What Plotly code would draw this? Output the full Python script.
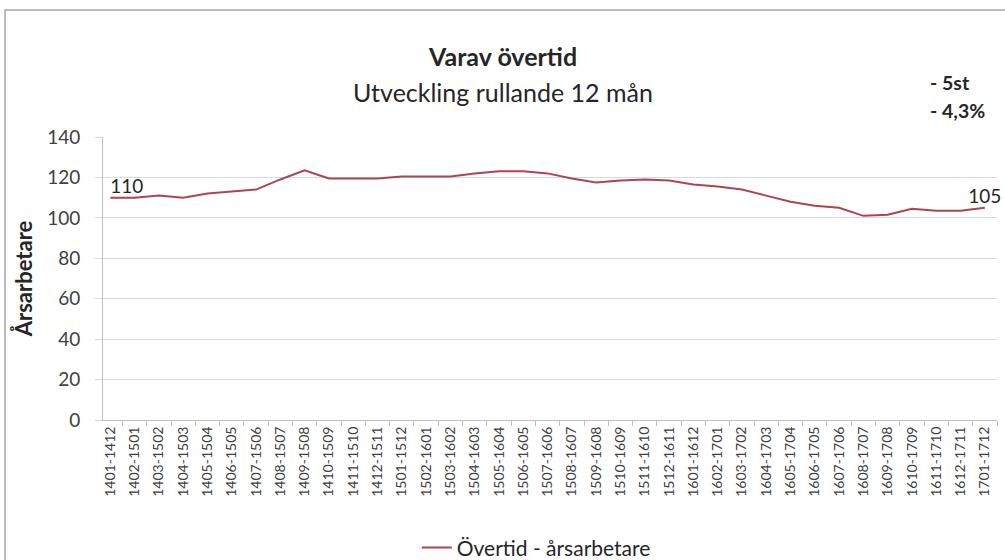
import plotly.graph_objects as go

# rullande 12 mån perioder
perioder = [
    "1401-1412", "1402-1501", "1403-1502", "1404-1503", "1405-1504", "1406-1505",
    "1407-1506", "1408-1507", "1409-1508", "1410-1509", "1411-1510", "1412-1511",
    "1501-1512", "1502-1601", "1503-1602", "1504-1603", "1505-1604", "1506-1605",
    "1507-1606", "1508-1607", "1509-1608", "1510-1609", "1511-1610", "1512-1611",
    "1601-1612", "1602-1701", "1603-1702", "1604-1703", "1605-1704", "1606-1705",
    "1607-1706", "1608-1707", "1609-1708", "1610-1709", "1611-1710", "1612-1711",
    "1701-1712",
]

overtid = [
    110, 110, 111, 110, 112, 113,
    114, 119, 123.5, 119.5, 119.5, 119.5,
    120.5, 120.5, 120.5, 122, 123, 123,
    122, 119.5, 117.5, 118.5, 119, 118.5,
    116.5, 115.5, 114, 111, 108, 106,
    105, 101, 101.5, 104.5, 103.5, 103.5,
    105,
]

# bara första och sista värdet visas som etikett
etiketter = ["110"] + [""] * (len(perioder) - 2) + ["105"]
etikett_pos = ["top right"] + ["top center"] * (len(perioder) - 2) + ["top center"]

y_ticks = [0, 20, 40, 60, 80, 100, 120, 140]

FONT = "Lato, 'Open Sans', sans-serif"
MORK = "#262626"

fig = go.Figure()
fig.add_trace(go.Scatter(
    x=perioder,
    y=overtid,
    mode="lines+text",
    name="Övertid - årsarbetare",
    line=dict(color="#ad4550", width=2),
    text=etiketter,
    textposition=etikett_pos,
    textfont=dict(size=19, color=MORK, family=FONT),
    cliponaxis=False,
))

fig.update_layout(
    width=1005,
    height=560,
    margin=dict(l=103, r=8, t=137, b=140, autoexpand=False),
    paper_bgcolor="white",
    plot_bgcolor="white",
    font=dict(family=FONT, color="#404040"),
    showlegend=True,
    legend=dict(
        orientation="h",
        x=0.351, xanchor="left",
        y=-0.452, yanchor="middle",
        font=dict(size=21, color=MORK),
    ),
    xaxis=dict(
        type="category",
        range=[-0.3, 36.5],
        tickangle=-90,
        tickfont=dict(size=14, color="#404040"),
        showgrid=False,
        showline=True,
        linecolor="#bfbfbf",
        ticks="outside",
        tickson="boundaries",
        ticklen=5,
        tickcolor="#bfbfbf",
        automargin=False,
    ),
    yaxis=dict(
        range=[0, 140],
        tickvals=y_ticks,
        tickfont=dict(size=19, color="#404040"),
        showgrid=True,
        gridcolor="#d9d9d9",
        showline=True,
        linecolor="#bfbfbf",
        ticks="outside",
        ticklen=7,
        tickcolor="#d9d9d9",
        ticklabelstandoff=11,
        zeroline=False,
        automargin=False,
        title=dict(text="<b>Årsarbetare</b>", font=dict(size=22, color=MORK), standoff=8),
    ),
    annotations=[
        dict(text="<b>Varav övertid</b>", xref="paper", yref="paper", yanchor="middle",
             x=0.447, y=1.286, showarrow=False, font=dict(size=25, color=MORK)),
        dict(text="Utveckling rullande 12 mån", xref="paper", yref="paper", yanchor="middle",
             x=0.447, y=1.159, showarrow=False, font=dict(size=25, color=MORK)),
        dict(text="<b>- 5st</b>", xref="paper", yref="paper", xanchor="left", yanchor="middle",
             x=0.923, y=1.191, showarrow=False, font=dict(size=19.5, color=MORK)),
        dict(text="<b>- 4,3%</b>", xref="paper", yref="paper", xanchor="left", yanchor="middle",
             x=0.923, y=1.095, showarrow=False, font=dict(size=19.5, color=MORK)),
    ],
    shapes=[
        dict(type="rect", xref="paper", yref="paper",
             x0=-0.1096, x1=1.05, y0=-0.7, y1=1.449,
             line=dict(color="#a6a6a6", width=1.5)),
    ],
)

# ta bort sidans standardmarginal så att figuren hamnar i hörnet
fig.write_html("out.html", config={"displayModeBar": False},
               post_script="document.body.style.margin='0';")
